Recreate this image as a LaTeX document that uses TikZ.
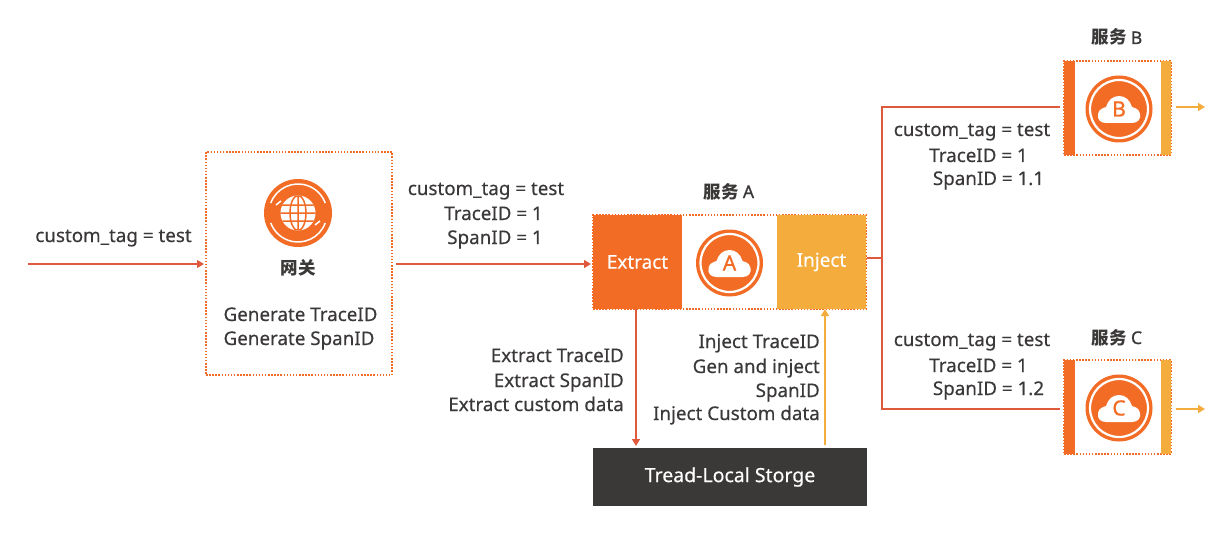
\documentclass[tikz,border=0pt]{standalone}
\usepackage{fontspec}
\setmainfont[FakeBold=0.4]{Noto Sans}
\newfontfamily\cjk{Noto Sans CJK SC}
\newfontfamily\bsans[FakeBold=1.0]{Noto Sans}
\usetikzlibrary{arrows.meta}
\definecolor{org}{HTML}{F26C26}
\definecolor{yel}{HTML}{F4AC3D}
\definecolor{redl}{HTML}{DF5A3C}
\definecolor{ink}{HTML}{3B3838}
\tikzset{
  x=1pt,y=-1pt,
  lbl/.style={font=\fontsize{18.8}{20}\selectfont,text=ink,inner sep=0pt,anchor=base},
  rlbl/.style={lbl,anchor=base east},
  ttl/.style={font=\fontsize{17.5}{20}\selectfont\cjk\bfseries,text=ink,inner sep=0pt,anchor=base},
  wlbl/.style={font=\fontsize{18.9}{20}\selectfont,text=white,inner sep=0pt},
  dotbox/.style={draw=org,line width=1.5pt,dash pattern=on 1.5pt off 1.6pt,inner sep=0pt},
  fillbox/.style={inner sep=0pt,outer sep=0pt},
  conn/.style={draw=redl,line width=1.4pt},
  connarrow/.style={conn,-{Triangle[length=7pt,width=8pt]}},
  yconn/.style={draw=yel,line width=1.4pt,-{Triangle[length=7pt,width=8pt]}}
}
% icon: #1 name, #2 centre, #3 letter
\newcommand{\cloudicon}[3]{%
  \node[circle,fill=org,minimum size=67pt,inner sep=0pt] (#1) at #2 {};
  \begin{scope}[shift={#2}]
    \draw[white,line width=2.2pt] (0,0) circle (29);
    \fill[white] (-13,14) .. controls (-19,14) and (-22,10) .. (-21,5)
      .. controls (-20,0) and (-16,-1) .. (-13,-2)
      .. controls (-11,-9) and (-6,-13) .. (0,-13)
      .. controls (6,-13) and (11,-9) .. (13,-2)
      .. controls (16,-1) and (20,0) .. (21,5)
      .. controls (22,10) and (19,14) .. (13,14) -- cycle;
  \end{scope}
  \node[font=\fontsize{21}{20}\selectfont\bsans,text=org,inner sep=0pt] at #2 {#3};
}
\begin{document}
\begin{tikzpicture}
\useasboundingbox (0,0) rectangle (1214,548);
% gateway
\node[dotbox,minimum width=186pt,minimum height=223pt] (gw) at (299,263.5) {};
\node[circle,fill=org,minimum size=68pt,inner sep=0pt] (gwicon) at (298,213) {};
\begin{scope}[shift={(298,213)}]
  \draw[white,line width=1.5pt] (20:29) arc (20:160:29) (200:29) arc (200:340:29);
  \draw[white,line width=1.5pt] (-22,-8) -- (-17,-12) (22,8) -- (17,12);
  \fill[white] (0,0) circle (17.5);
  \begin{scope}
    \clip (0,0) circle (17.5);
    \draw[org,line width=1.5pt] (0,0) ellipse (8 and 17.5) (0,-17.5) -- (0,17.5) (-17.5,0) -- (17.5,0) (-17.5,-8) -- (17.5,-8) (-17.5,8) -- (17.5,8);
  \end{scope}
\end{scope}
\node[ttl] (gwt) at (298,274.5) {网关};
\node[lbl] (g1) at (300.5,321) {Generate TraceID};
\node[lbl] (g2) at (299,345) {Generate SpanID};
% service A
\node[dotbox,minimum width=273pt,minimum height=94pt] (sa) at (729.5,262) {};
\node[fillbox,fill=org,minimum width=89pt,minimum height=94pt,wlbl] (ex) at (637.5,262) {\raisebox{-1pt}{Extract}};
\node[fillbox,fill=yel,minimum width=89pt,minimum height=94pt,wlbl] (inj) at (821.5,262) {\raisebox{1pt}{Inject}\hspace{2pt}};
\cloudicon{ia}{(729.5,263)}{A}
\node[ttl] (ta) at (729,198) {服务 {\bsans A}};
% service B
\node[dotbox,minimum width=107pt,minimum height=94pt] (sb) at (1117.5,108) {};
\fill[org] (1064,61) rectangle (1075,155);
\fill[yel] (1161,61) rectangle (1171,155);
\cloudicon{ib}{(1119,109)}{B}
\node[ttl] (tb) at (1117,44) {服务 {\bsans B}};
% service C
\node[dotbox,minimum width=107pt,minimum height=94pt] (sc) at (1117.5,407) {};
\fill[org] (1064,360) rectangle (1075,454);
\fill[yel] (1161,360) rectangle (1171,454);
\cloudicon{ic}{(1119,408)}{C}
\node[ttl] (tc) at (1117,344) {服务 {\bsans C}};
% storage
\node[fillbox,fill=ink,minimum width=274pt,minimum height=58pt,text=white,font=\fontsize{19.5}{20}\selectfont] (st) at (730,477) {Tread-Local Storge};
% free ends
\coordinate (in0) at (28,264);
\coordinate (gwout) at (396,264);
\coordinate (saIn) at (591,264);
\coordinate (gwIn) at (204,264);
\coordinate (exOut) at (636,309);
\coordinate (stIn) at (636,446);
\coordinate (stOut) at (825,445);
\coordinate (injIn) at (825,309);
\coordinate (sOut) at (867,258);
\coordinate (jct) at (882,258);
\coordinate (bIn) at (1060,107);
\coordinate (cIn) at (1060,409);
\coordinate (bOut) at (1176,107);
\coordinate (bEnd) at (1205,107);
\coordinate (cOut) at (1176,409);
\coordinate (cEnd) at (1205,409);
% connectors
\draw[connarrow] (in0) -- (gwIn);
\draw[connarrow] (gwout) -- (saIn);
\draw[connarrow] (exOut) -- (stIn);
\draw[yconn] (stOut) -- (injIn);
\draw[conn] (sOut) -- (jct);
\draw[conn] (bIn) -| (jct);
\draw[conn,line width=2.2pt] (cIn) -| (jct);
\draw[yconn] (bOut) -- (bEnd);
\draw[yconn] (cOut) -- (cEnd);
% labels
\node[lbl] (l0) at (113.5,242) {custom\_tag = test};
\node[lbl] (l1a) at (486,195) {custom\_tag = test};
\node[lbl] (l1b) at (493.5,220) {TraceID = 1};
\node[lbl] (l1c) at (495,244) {SpanID = 1};
\node[lbl] (l2a) at (972,136) {custom\_tag = test};
\node[lbl] (l2b) at (978.5,162) {TraceID = 1};
\node[lbl] (l2c) at (988.5,185) {SpanID = 1.1};
\node[lbl] (l3a) at (972,346) {custom\_tag = test};
\node[lbl] (l3b) at (978.5,372) {TraceID = 1};
\node[lbl] (l3c) at (988.5,395) {SpanID = 1.2};
\node[rlbl] (e1) at (624,362) {Extract TraceID};
\node[rlbl] (e2) at (624,387) {Extract SpanID};
\node[rlbl] (e3) at (624,411) {Extract custom data};
\node[rlbl] (i1) at (820,348) {Inject TraceID};
\node[rlbl] (i2) at (820,373) {Gen and inject};
\node[rlbl] (i3) at (820,397) {SpanID};
\node[rlbl] (i4) at (820,420) {Inject Custom data};
\end{tikzpicture}
\end{document}
